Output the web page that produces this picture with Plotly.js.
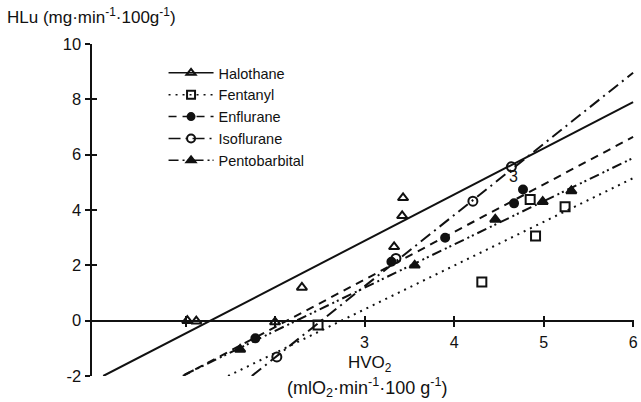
<!DOCTYPE html>
<html>
<head>
<meta charset="utf-8">
<script src="https://cdn.plot.ly/plotly-3.0.1.min.js"></script>
<style>html,body{margin:0;padding:0;background:#fff;}#chart{width:641px;height:402px;}</style>
</head>
<body>
<div id="chart"></div>
<script>
// ---- data ----
var seriesNames = ["Halothane", "Fentanyl", "Enflurane", "Isoflurane", "Pentobarbital"];

var halothaneX = [1.02, 1.12, 2.00, 2.30, 3.33, 3.42, 3.43];
var halothaneY = [0.00, -0.02, -0.05, 1.20, 2.67, 3.79, 4.44];
var fentanylX = [2.48, 4.31, 4.85, 4.91, 5.24];
var fentanylY = [-0.16, 1.40, 4.38, 3.06, 4.12];
var enfluraneX = [1.78, 3.30, 3.90, 4.67, 4.77];
var enfluraneY = [-0.64, 2.13, 3.00, 4.24, 4.74];
var isofluraneX = [2.02, 3.35, 4.21, 4.64];
var isofluraneY = [-1.31, 2.25, 4.32, 5.56];
var pentobarbitalX = [1.61, 3.56, 4.46, 4.99, 5.31];
var pentobarbitalY = [-1.04, 2.00, 3.66, 4.30, 4.69];

// regression lines (end points)
var halothaneFitX = [0.08, 6.0], halothaneFitY = [-2.0, 7.9];
var fentanylFitX = [1.475, 6.0], fentanylFitY = [-2.0, 5.15];
var enfluraneFitX = [0.97, 6.0], enfluraneFitY = [-2.0, 6.64];
var isofluraneFitX = [1.74, 6.0], isofluraneFitY = [-2.0, 8.96];
var pentobarbitalFitX = [0.99, 6.0], pentobarbitalFitY = [-1.95, 5.88];

var xTickVals = [1, 2, 3, 4, 5, 6];
var xTickText = ["", "", "3", "4", "5", "6"];
var yTickVals = [-2, 0, 2, 4, 6, 8, 10];
var yTickText = ["-2", "0", "2", "4", "6", "8", "10"];

// ---- styling ----
var INK = "#111111";
var FONT = "Liberation Sans, Arial, Helvetica, sans-serif";
var styles = [
  {dash: "solid", symbol: "triangle-up-open", size: 9},
  {dash: "2px,5px", symbol: "square-open", size: 9},
  {dash: "8px,6px", symbol: "circle", size: 8},
  {dash: "12px,5px,2px,5px", symbol: "circle-open", size: 9},
  {dash: "10px,4px,2px,3px,2px,4px", symbol: "triangle-up", size: 9}
];
var pts = [[halothaneX, halothaneY], [fentanylX, fentanylY], [enfluraneX, enfluraneY], [isofluraneX, isofluraneY], [pentobarbitalX, pentobarbitalY]];
var fits = [[halothaneFitX, halothaneFitY], [fentanylFitX, fentanylFitY], [enfluraneFitX, enfluraneFitY], [isofluraneFitX, isofluraneFitY], [pentobarbitalFitX, pentobarbitalFitY]];

var traces = [];
for (var i = 0; i < seriesNames.length; i++) {
  var s = styles[i];
  traces.push({
    x: fits[i][0], y: fits[i][1], mode: "lines", type: "scatter",
    line: {color: INK, width: 2, dash: s.dash}, showlegend: false, hoverinfo: "skip"
  });
  traces.push({
    x: pts[i][0], y: pts[i][1], mode: "markers", type: "scatter",
    marker: {symbol: s.symbol, size: s.size, color: INK, line: {color: INK, width: 2}},
    showlegend: false, name: seriesNames[i]
  });
  traces.push({
    x: [null], y: [null], mode: "lines+markers", type: "scatter", name: seriesNames[i],
    line: {color: INK, width: 1.5, dash: s.dash},
    marker: {symbol: s.symbol, size: s.size - 1, color: INK, line: {color: INK, width: 2}}
  });
}
// helper axes for crossing tick marks
traces.push({x: [null], y: [null], xaxis: "x2", yaxis: "y2", showlegend: false, hoverinfo: "skip", type: "scatter"});

var xr = [-0.045, 6.01];
var yr = [-2, 10];
var zeroPos = (0 - yr[0]) / (yr[1] - yr[0]);

var layout = {
  width: 641, height: 402,
  margin: {l: 92, r: 7, t: 44, b: 26},
  paper_bgcolor: "#fff", plot_bgcolor: "#fff",
  font: {family: FONT, color: INK, size: 14},
  showlegend: true,
  legend: {
    x: 0.132, y: 0.961, xanchor: "left", yanchor: "top",
    bgcolor: "rgba(0,0,0,0)", borderwidth: 0,
    font: {family: FONT, size: 14.5, color: INK},
    itemwidth: 45, tracegroupgap: 0
  },
  xaxis: {
    range: xr, anchor: "free", position: zeroPos,
    showgrid: false, zeroline: false,
    showline: true, linecolor: INK, linewidth: 2.5,
    tickmode: "array", tickvals: xTickVals, ticktext: xTickText,
    ticks: "outside", ticklen: 5, tickwidth: 2, tickcolor: INK,
    ticklabelstandoff: 2,
    tickfont: {family: FONT, size: 16, color: INK}
  },
  xaxis2: {
    range: xr, overlaying: "x", anchor: "free", position: zeroPos,
    showgrid: false, zeroline: false, showline: false,
    tickmode: "array", tickvals: xTickVals, showticklabels: false,
    ticks: "inside", ticklen: 5, tickwidth: 2, tickcolor: INK
  },
  yaxis: {
    range: yr, showgrid: false, zeroline: false,
    showline: true, linecolor: INK, linewidth: 2.5,
    tickmode: "array", tickvals: yTickVals, ticktext: yTickText,
    ticks: "outside", ticklen: 5, tickwidth: 2, tickcolor: INK,
    tickfont: {family: FONT, size: 16.5, color: INK}
  },
  yaxis2: {
    range: yr, overlaying: "y", side: "left",
    showgrid: false, zeroline: false, showline: false,
    tickmode: "array", tickvals: yTickVals, showticklabels: false,
    ticks: "inside", ticklen: 5, tickwidth: 2, tickcolor: INK
  },
  annotations: [
    {xref: "paper", yref: "paper", x: -0.16, y: 1.084, xanchor: "left", yanchor: "middle", showarrow: false,
     text: "HLu (mg·min<sup>-1</sup>·100g<sup>-1</sup>)", font: {family: FONT, size: 17, color: INK}},
    {xref: "paper", yref: "paper", x: 0.513, y: 0.037, xanchor: "center", yanchor: "middle", showarrow: false,
     text: "HVO<sub>2</sub>", font: {family: FONT, size: 17, color: INK}},
    {xref: "paper", yref: "paper", x: 0.508, y: -0.034, xanchor: "center", yanchor: "middle", showarrow: false,
     text: "(mlO<sub>2</sub>·min<sup>-1</sup>·100 g<sup>-1</sup>)", font: {family: FONT, size: 18, color: INK}},
    {xref: "x", yref: "y", x: 4.66, y: 5.2, xanchor: "center", yanchor: "middle", showarrow: false,
     text: "3", font: {family: FONT, size: 16, color: INK}}
  ]
};

Plotly.newPlot("chart", traces, layout, {displayModeBar: false, staticPlot: true});
</script>
</body>
</html>
